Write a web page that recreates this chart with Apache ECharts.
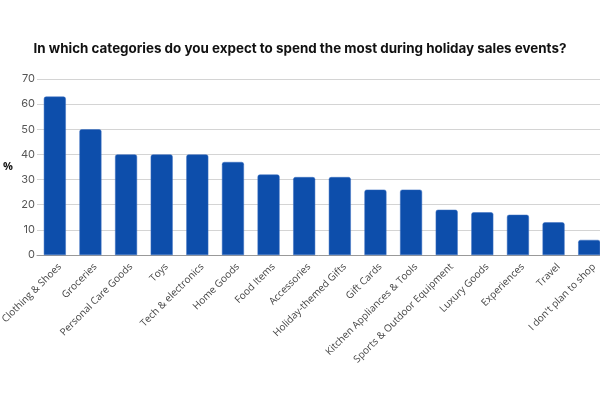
<!DOCTYPE html>
<html>
<head>
<meta charset="utf-8">
<script src="https://cdn.jsdelivr.net/npm/echarts@6/dist/echarts.min.js"></script>
<style>html,body{margin:0;padding:0;background:#fff}#c{width:600px;height:400px}</style>
</head>
<body>
<div id="c"></div>
<script>
var categories = ["Clothing & Shoes","Groceries","Personal Care Goods","Toys","Tech & electronics","Home Goods","Food Items","Accessories","Holiday-themed Gifts","Gift Cards","Kitchen Appliances & Tools","Sports & Outdoor Equipment","Luxury Goods","Experiences","Travel","I don't plan to shop"];
var values = [63,50,40,40,40,37,32,31,31,26,26,18,17,16,13,6];
var yTicks = [0,10,20,30,40,50,60,70];
var chart = echarts.init(document.getElementById('c'), null, {renderer:'canvas'});
chart.setOption({
  animation:false,
  title:{text:"In which categories do you expect to spend the most during holiday sales events?",left:'center',top:37,textStyle:{fontFamily:'Inter',fontWeight:'bold',fontSize:13.4,color:'#111'}},
  grid:{left:37,width:570,top:79,bottom:145,containLabel:false,outerBoundsMode:'none'},
  xAxis:{type:'category',data:categories,
    axisLine:{lineStyle:{color:'#999',width:1}},axisTick:{show:false},
    axisLabel:{rotate:45,interval:0,fontFamily:'Open Sans',fontSize:10,color:'#444',margin:8,verticalAlign:'top',padding:[0,-2,0,0]}},
  yAxis:{type:'value',min:yTicks[0],max:yTicks[yTicks.length-1],interval:10,
    name:'%',nameLocation:'middle',nameRotate:0,nameGap:24,nameTextStyle:{fontFamily:'Open Sans',fontWeight:'bold',fontSize:11,color:'#111'},
    axisLine:{show:false},axisTick:{show:false},
    axisLabel:{fontFamily:'Inter',fontSize:11,color:'#555',margin:2},
    splitLine:{lineStyle:{color:'#d4d4d4',width:1}}},
  series:[{type:'bar',data:values,barWidth:22,
    itemStyle:{color:'#0d4eab',borderRadius:[2,2,0,0],borderColor:'#3a6fc0',borderWidth:0.5}}]
});
</script>
</body>
</html>
